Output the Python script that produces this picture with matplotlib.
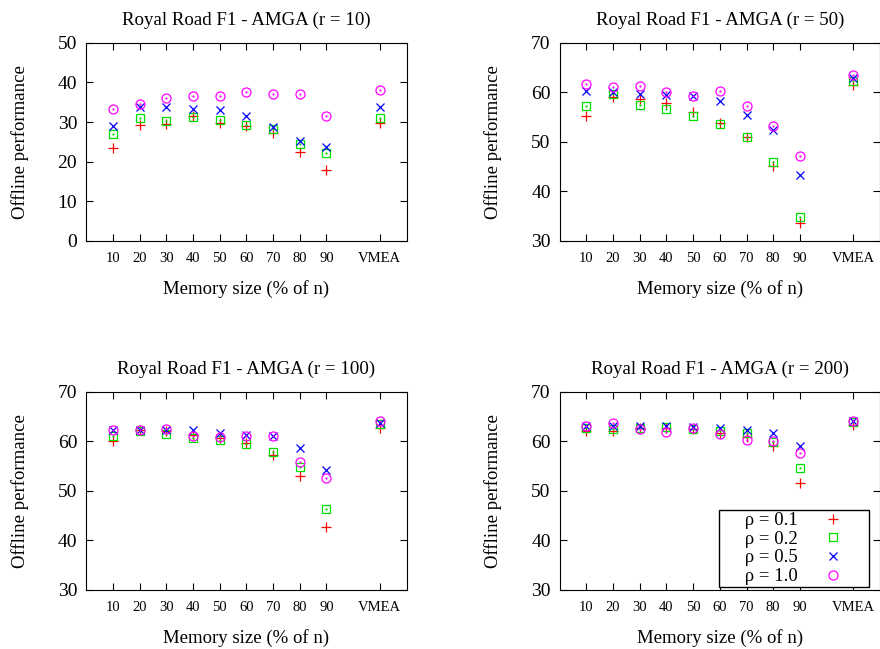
import matplotlib
matplotlib.use("Agg")
import matplotlib.pyplot as plt

plt.rcParams["font.family"] = ["Liberation Serif", "DejaVu Serif"]

# memory sizes (% of n); VMEA drawn at position 110
mem_sizes = [10, 20, 30, 40, 50, 60, 70, 80, 90, 110]
tick_labels = ["10", "20", "30", "40", "50", "60", "70", "80", "90", "VMEA"]

rhos = ["0.1", "0.2", "0.5", "1.0"]

# r = 10
r10_rho01 = [23.4, 29.2, 29.4, 31.5, 29.8, 28.9, 27.2, 22.5, 18.0, 29.8]
r10_rho02 = [26.9, 31.0, 30.3, 31.3, 30.5, 29.3, 28.2, 24.4, 22.2, 31.0]
r10_rho05 = [28.9, 33.8, 33.8, 33.3, 33.0, 31.6, 28.8, 25.2, 23.6, 33.9]
r10_rho10 = [33.2, 34.6, 36.0, 36.6, 36.6, 37.6, 37.0, 37.0, 31.6, 38.2]

# r = 50
r50_rho01 = [55.3, 59.1, 58.6, 57.8, 56.1, 53.9, 50.9, 45.1, 33.6, 61.4]
r50_rho02 = [57.2, 59.7, 57.4, 56.6, 55.3, 53.5, 51.0, 45.9, 34.9, 62.3]
r50_rho05 = [60.2, 60.0, 59.7, 59.5, 59.3, 58.2, 55.5, 52.4, 43.3, 62.9]
r50_rho10 = [61.6, 61.1, 61.3, 60.0, 59.3, 60.2, 57.3, 53.1, 47.2, 63.4]

# r = 100
r100_rho01 = [60.0, 62.3, 62.1, 61.4, 60.7, 59.7, 57.3, 53.1, 42.8, 62.8]
r100_rho02 = [61.2, 62.1, 61.6, 60.7, 60.4, 59.4, 57.9, 54.9, 46.4, 63.6]
r100_rho05 = [62.3, 62.3, 62.3, 62.4, 61.8, 61.3, 61.1, 58.7, 54.2, 63.8]
r100_rho10 = [62.3, 62.3, 62.6, 61.1, 60.9, 61.2, 61.1, 55.8, 52.6, 64.1]

# r = 200
r200_rho01 = [62.1, 62.1, 62.8, 62.8, 62.6, 61.8, 60.9, 59.1, 51.6, 63.4]
r200_rho02 = [62.8, 62.6, 62.8, 62.9, 62.6, 62.2, 61.8, 59.9, 54.7, 63.9]
r200_rho05 = [63.1, 63.1, 63.1, 63.1, 62.9, 62.8, 62.4, 61.8, 59.1, 64.1]
r200_rho10 = [63.1, 63.8, 62.6, 61.9, 62.8, 61.6, 60.4, 60.0, 57.6, 64.1]

panels = [
    ("10", [r10_rho01, r10_rho02, r10_rho05, r10_rho10], (0, 50), [0, 10, 20, 30, 40, 50]),
    ("50", [r50_rho01, r50_rho02, r50_rho05, r50_rho10], (30, 70), [30, 40, 50, 60, 70]),
    ("100", [r100_rho01, r100_rho02, r100_rho05, r100_rho10], (30, 70), [30, 40, 50, 60, 70]),
    ("200", [r200_rho01, r200_rho02, r200_rho05, r200_rho10], (30, 70), [30, 40, 50, 60, 70]),
]

# gnuplot-like point types
styles = [
    dict(marker="+", color="#ff0000", ms=7, mew=0.9),
    dict(marker="s", color="#00e000", ms=6, mew=0.9, mfc="none"),
    dict(marker="x", color="#0000ff", ms=6, mew=0.9),
    dict(marker="o", color="#ff00ff", ms=6.5, mew=0.9, mfc="none"),
]

positions = [
    [0.098, 0.629, 0.364, 0.305],
    [0.636, 0.629, 0.364, 0.305],
    [0.098, 0.091, 0.364, 0.305],
    [0.636, 0.091, 0.364, 0.305],
]

fig = plt.figure(figsize=(8.8, 6.49), dpi=100)

for i, (r, series, ylim, yticks) in enumerate(panels):
    ax = fig.add_axes(positions[i])
    for rho, vals, st in zip(rhos, series, styles):
        ax.plot(mem_sizes, vals, ls="none", label="     ρ = " + rho, **st)
        if st["marker"] in ("s", "o"):
            # small centre dot, as in the gnuplot symbols
            ax.plot(mem_sizes, vals, ls="none", marker=".", ms=1.2, color=st["color"])
    ax.set_xlim(0, 120)
    ax.set_ylim(*ylim)
    ax.set_xticks(mem_sizes)
    ax.set_xticklabels(tick_labels)
    ax.set_yticks(yticks)
    ax.tick_params(direction="in", top=True, right=True, length=5)
    ax.tick_params(axis="x", labelsize=10.5, pad=8)
    ax.tick_params(axis="y", labelsize=14, pad=6.5)
    ax.set_title(f"Royal Road F1 - AMGA (r = {r})", fontsize=13.6, pad=13)
    ax.set_xlabel("Memory size (% of n)", fontsize=13.5)
    ax.set_ylabel("Offline performance", fontsize=13.5)
    ax.xaxis.set_label_coords(0.5, -0.2)
    ax.yaxis.set_label_coords(-0.18, 0.5)

    if i == 3:
        leg = ax.legend(loc="lower right", bbox_to_anchor=(0.966, 0.015),
                        borderaxespad=0, markerfirst=False, fontsize=13.5,
                        frameon=True, fancybox=False, edgecolor="black",
                        framealpha=1, handletextpad=0.1, handlelength=3.6,
                        labelspacing=0.08, borderpad=0.1)
        leg.get_frame().set_linewidth(1.0)

fig.savefig("out.png", dpi=100)
